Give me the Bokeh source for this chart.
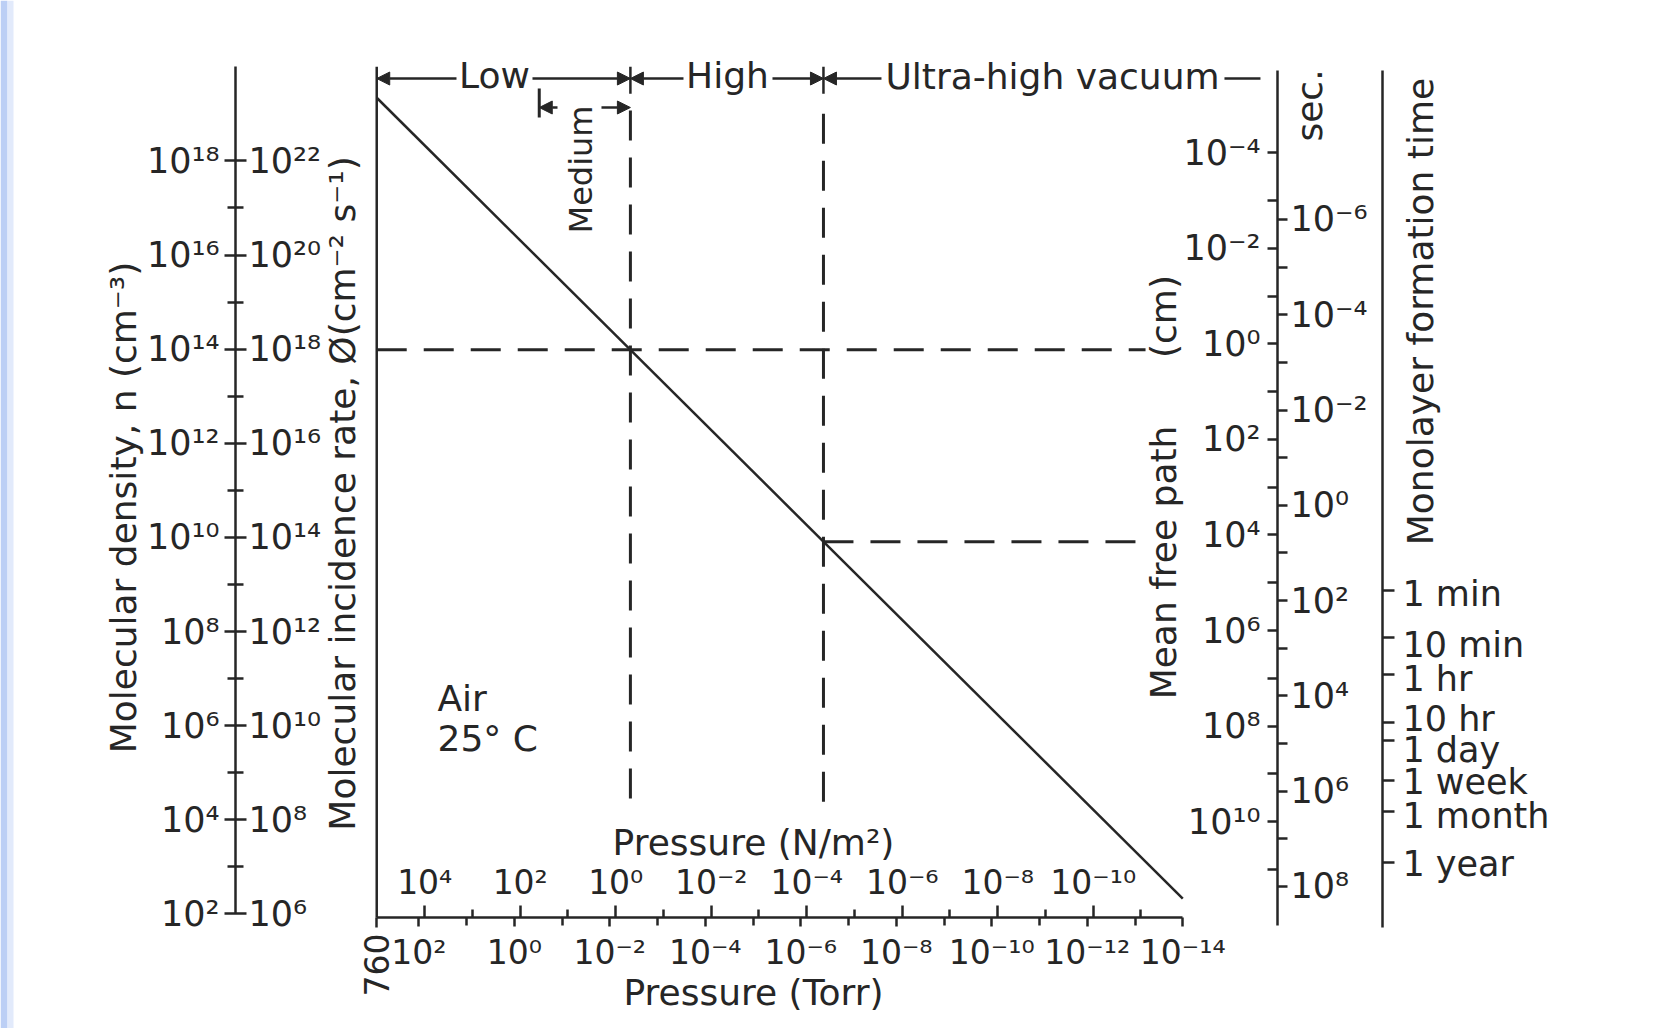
import math
import numpy as np
from bokeh.plotting import figure
from bokeh.models import Range1d, LogAxis, LogScale, FixedTicker, Arrow, NormalHead, BoxAnnotation
from bokeh.core.properties import value
from bokeh.embed import file_html
from bokeh.resources import INLINE

# ---------------- values ----------------
pressure_torr = [760.0, 1e-14]            # ends of the air line (Torr)
molecular_density = [2.2e19, 2.1e2]       # n (cm^-3) at those pressures

vacuum_labels = ["Low", "Medium", "High", "Ultra-high vacuum"]
vacuum_start_torr = [760.0, 0.3, 3.7e-3, 3.35e-7]   # where each range begins

torr_ticks = [1e2, 1e0, 1e-2, 1e-4, 1e-6, 1e-8, 1e-10, 1e-12, 1e-14]
torr_tick_labels = ["10²", "10⁰", "10⁻²", "10⁻⁴", "10⁻⁶", "10⁻⁸", "10⁻¹⁰", "10⁻¹²", "10⁻¹⁴"]
torr_minor = [1e1, 1e-1, 1e-3, 1e-5, 1e-7, 1e-9, 1e-11, 1e-13]

PA_PER_TORR = 133.322
pa_ticks = [1e4, 1e2, 1e0, 1e-2, 1e-4, 1e-6, 1e-8, 1e-10]
pa_tick_labels = ["10⁴", "10²", "10⁰", "10⁻²", "10⁻⁴", "10⁻⁶", "10⁻⁸", "10⁻¹⁰"]
pa_minor = [1e3, 1e1, 1e-1, 1e-3, 1e-5, 1e-7, 1e-9, 1e-11]

density_ticks = [1e2, 1e4, 1e6, 1e8, 1e10, 1e12, 1e14, 1e16, 1e18]
density_tick_labels = ["10²", "10⁴", "10⁶", "10⁸", "10¹⁰", "10¹²", "10¹⁴", "10¹⁶", "10¹⁸"]
density_minor = [1e3, 1e5, 1e7, 1e9, 1e11, 1e13, 1e15, 1e17]

INCIDENCE_PER_DENSITY = 1e4
incidence_ticks = [1e6, 1e8, 1e10, 1e12, 1e14, 1e16, 1e18, 1e20, 1e22]
incidence_tick_labels = ["10⁶", "10⁸", "10¹⁰", "10¹²", "10¹⁴", "10¹⁶", "10¹⁸", "10²⁰", "10²²"]

mfp_ticks = [1e-4, 1e-2, 1e0, 1e2, 1e4, 1e6, 1e8, 1e10]
mfp_tick_labels = ["10⁻⁴", "10⁻²", "10⁰", "10²", "10⁴", "10⁶", "10⁸", "10¹⁰"]
mfp_minor = [1e-3, 1e-1, 1e1, 1e3, 1e5, 1e7, 1e9, 1e11]

sec_ticks = [1e-6, 1e-4, 1e-2, 1e0, 1e2, 1e4, 1e6, 1e8]
sec_tick_labels = ["10⁻⁶", "10⁻⁴", "10⁻²", "10⁰", "10²", "10⁴", "10⁶", "10⁸"]
sec_minor = [1e-5, 1e-3, 1e-1, 1e1, 1e3, 1e5, 1e7]

mono_seconds = [60.0, 600.0, 3600.0, 36000.0, 86400.0, 604800.0, 2.63e6, 3.156e7]
mono_labels = ["1 min", "10 min", "1 hr", "10 hr", "1 day", "1 week", "1 month", "1 year"]
mono_label_nudge = [0.09, 0.15, 0.10, -0.08, 0.21, 0.02, 0.11, 0.02]   # decades, to keep labels apart

# ---------------- layout (decade scales fitted to the page) ----------------
INK = "#262626"
FONT = "DejaVu Sans"
TICK_FONT = "35px"
PRESSURE_TICK_FONT = "33px"
X_RANGE = (10**10.760, 10**-23.90)      # Torr at left / right page edge
Y_RANGE = (10**-0.436, 10**21.409)      # density at bottom / top page edge
MFP_RANGE = (10**14.327, 10**-7.184)    # cm, grows downward
SEC_RANGE = (10**10.982, 10**-10.596)   # s, grows downward

LEFT_SCALE_AT = 10**5.839       # Torr position of the n / flux scale
RIGHT_SCALE_AT = 10**-15.983    # Torr position of the mean-free-path / sec scale
MONO_SCALE_AT = 10**-18.182     # Torr position of the monolayer-time scale
MONO_LABEL_AT = 10**-18.601
BOTTOM_SCALE_AT = 10**1.923     # density level of the pressure scales

p = figure(width=1655, height=1028, x_axis_type="log", y_axis_type="log",
           x_range=Range1d(*X_RANGE), y_range=Range1d(*Y_RANGE),
           x_axis_location=None, y_axis_location=None,
           toolbar_location=None, output_backend="svg", min_border=0,
           outline_line_color=None, background_fill_color="white",
           border_fill_color="white")
p.title.visible = False
p.grid.visible = False

# faint blue edge of the scanned slide
p.add_layout(BoxAnnotation(left=0, right=7, left_units="screen", right_units="screen",
                           fill_color="#bccff5", fill_alpha=1.0, line_color=None, level="underlay"))
p.add_layout(BoxAnnotation(left=7, right=13, left_units="screen", right_units="screen",
                           fill_color="#e2eafb", fill_alpha=1.0, line_color=None, level="underlay"))

p.extra_x_ranges = {"pa": Range1d(X_RANGE[0] * PA_PER_TORR, X_RANGE[1] * PA_PER_TORR)}
p.extra_x_scales = {"pa": LogScale()}
p.extra_y_ranges = {
    "inc": Range1d(Y_RANGE[0] * INCIDENCE_PER_DENSITY, Y_RANGE[1] * INCIDENCE_PER_DENSITY),
    "mfp": Range1d(*MFP_RANGE),
    "sec": Range1d(*SEC_RANGE),
}
p.extra_y_scales = {"inc": LogScale(), "mfp": LogScale(), "sec": LogScale()}


def make_axis(side, ticks, labels, minor=None, line=True, tick_out=10, tick_in=0,
              minor_out=None, minor_in=None, standoff=6, label_color=INK,
              font_size=TICK_FONT, **kw):
    ax = LogAxis(ticker=FixedTicker(ticks=list(ticks), minor_ticks=list(minor or [])),
                 major_label_overrides={t: l for t, l in zip(ticks, labels)},
                 axis_line_color=INK if line else None, axis_line_width=2.5,
                 major_tick_line_color=INK, major_tick_line_width=2.5,
                 minor_tick_line_color=INK, minor_tick_line_width=2.5,
                 major_tick_out=tick_out, major_tick_in=tick_in,
                 minor_tick_out=tick_out if minor_out is None else minor_out,
                 minor_tick_in=tick_in if minor_in is None else minor_in,
                 major_label_standoff=standoff,
                 major_label_text_font=FONT, major_label_text_font_size=font_size,
                 major_label_text_color=label_color, **kw)
    p.add_layout(ax, side)
    return ax


# left: molecular density (labels left) and incidence rate (labels right)
make_axis("left", density_ticks, density_tick_labels, density_minor,
          tick_out=11, tick_in=11, minor_out=8, minor_in=8, standoff=5,
          fixed_location=LEFT_SCALE_AT, bounds=(1e2, 1e20))
make_axis("right", incidence_ticks, incidence_tick_labels, line=False,
          tick_out=0, standoff=13, y_range_name="inc", fixed_location=LEFT_SCALE_AT)

# bottom: Torr (below) and N/m^2 (above)
make_axis("below", torr_ticks, torr_tick_labels, torr_minor, tick_out=9, minor_out=8,
          standoff=7, font_size=PRESSURE_TICK_FONT,
          fixed_location=BOTTOM_SCALE_AT, bounds=(1e-14, 760.0))
make_axis("below", [pressure_torr[0]], ["760"], line=False, tick_out=10, standoff=6,
          font_size=PRESSURE_TICK_FONT,
          major_label_orientation=math.pi / 2, fixed_location=BOTTOM_SCALE_AT)
make_axis("above", pa_ticks, pa_tick_labels, pa_minor, line=False, tick_out=12,
          minor_out=8, standoff=3, font_size=PRESSURE_TICK_FONT,
          x_range_name="pa", fixed_location=BOTTOM_SCALE_AT)

# right: mean free path (labels left) and monolayer time in s (labels right)
make_axis("left", mfp_ticks, mfp_tick_labels, mfp_minor, tick_out=10, standoff=7,
          y_range_name="mfp", fixed_location=RIGHT_SCALE_AT, bounds=(10**-5.72, 10**12.17))
make_axis("right", sec_ticks, sec_tick_labels, sec_minor, line=False, tick_out=10,
          standoff=3, y_range_name="sec", fixed_location=RIGHT_SCALE_AT)
make_axis("right", mono_seconds, mono_labels, tick_out=12, standoff=4, label_color=None,
          y_range_name="sec", fixed_location=MONO_SCALE_AT, bounds=(10**-9.13, 10**8.86))
# monolayer labels, spread slightly apart where the ticks crowd
p.text(x=[MONO_LABEL_AT] * len(mono_labels),
       y=[s * 10**d for s, d in zip(mono_seconds, mono_label_nudge)],
       text=mono_labels, y_range_name="sec", text_font=value(FONT),
       text_font_size=TICK_FONT, text_color=INK, text_align="left", text_baseline="middle")

# ---------------- the air line and its guides ----------------
log_p = np.log10(pressure_torr)[::-1]
log_n = np.log10(molecular_density)[::-1]


def density_at(torr):
    return 10 ** np.interp(np.log10(torr), log_p, log_n)


p.line(pressure_torr, molecular_density, line_color=INK, line_width=2.5)

# left border of the chart
p.segment(x0=[pressure_torr[0]], y0=[BOTTOM_SCALE_AT], x1=[pressure_torr[0]], y1=[1e20],
          line_color=INK, line_width=2.5)

p_med, p_high, p_uhv = vacuum_start_torr[1], vacuum_start_torr[2], vacuum_start_torr[3]
DASH = "30 17"
DASH_END_TORR = 10**-13.22
# vertical boundaries
p.segment(x0=[p_high, p_uhv], y0=[10**19.07, 10**19.0], x1=[p_high, p_uhv], y1=[10**4.2, 10**4.2],
          line_color=INK, line_width=3, line_dash=DASH)
p.segment(x0=[p_high, p_uhv], y0=[1e20, 1e20], x1=[p_high, p_uhv], y1=[10**19.43, 10**19.43],
          line_color=INK, line_width=2.5)
# horizontal guides from the crossings
p.segment(x0=[pressure_torr[0], p_uhv], y0=[density_at(p_high), density_at(p_uhv)],
          x1=[DASH_END_TORR, DASH_END_TORR], y1=[density_at(p_high), density_at(p_uhv)],
          line_color=INK, line_width=3, line_dash=DASH)

# ---------------- vacuum range arrows ----------------
ROW1 = 10**19.751
ROW2 = 10**19.135


def arrow(x_from, x_to, y):
    p.add_layout(Arrow(x_start=x_from, y_start=y, x_end=x_to, y_end=y,
                       end=NormalHead(size=13, fill_color=INK, line_color=INK, line_width=1),
                       line_color=INK, line_width=2.5))


arrow(10**1.2105, vacuum_start_torr[0], ROW1)
arrow(10**-0.3812, p_high, ROW1)
arrow(10**-3.5435, p_high, ROW1)
arrow(10**-5.4073, p_uhv, ROW1)
arrow(10**-7.690, p_uhv, ROW1)
p.segment(x0=[10**-14.873], y0=[ROW1], x1=[10**-15.627], y1=[ROW1], line_color=INK, line_width=2.5)
arrow(10**-0.9047, p_med, ROW2)
arrow(10**-1.826, p_high, ROW2)
p.segment(x0=[p_med], y0=[10**19.539], x1=[p_med], y1=[10**18.923], line_color=INK, line_width=3)


def txt(x, y, s, size="36px", angle=0.0, align="center"):
    p.text(x=[x], y=[y], text=[s], angle=angle, text_font=value(FONT),
           text_font_size=size, text_color=INK, text_align=align, text_baseline="middle")


txt(10**0.4147, 10**19.815, vacuum_labels[0])
txt(10**-4.465, 10**19.815, vacuum_labels[2])
txt(10**-11.271, 10**19.79, vacuum_labels[3])
txt(10**-1.4073, 10**17.818, vacuum_labels[1], size="32px", angle=math.pi / 2)

txt(10**1.6084, 10**6.587, "Air", align="left")
txt(10**1.6084, 10**5.737, "25° C", align="left")

txt(10**-5.0094, 10**3.517, "Pressure (N/m²)")
txt(10**-5.0094, 10**0.329, "Pressure (Torr)")

txt(10**8.184, 10**10.635, "Molecular density, n (cm⁻³)", angle=math.pi / 2)
txt(10**3.598, 10**10.933, "Molecular incidence rate, Ø(cm⁻² s⁻¹)", angle=math.pi / 2)
txt(10**-13.596, 10**9.467, "Mean free path", angle=math.pi / 2)
txt(10**-13.596, 10**14.694, "(cm)", angle=math.pi / 2)
txt(10**-16.653, 10**19.178, "sec.", angle=math.pi / 2)
txt(10**-18.978, 10**14.80, "Monolayer formation time", angle=math.pi / 2)

open("out.html", "w").write(file_html(p, INLINE))
